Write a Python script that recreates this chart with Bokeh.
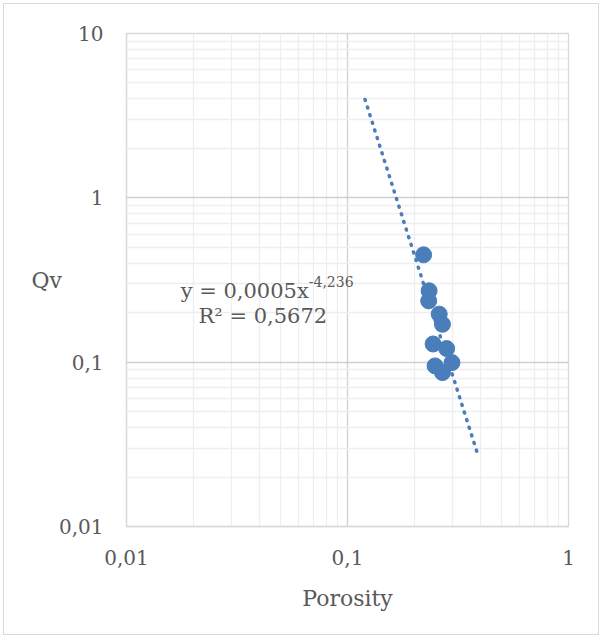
from bokeh.plotting import figure
from bokeh.models import FixedTicker, CustomJSTickFormatter, Label, ColumnDataSource
from bokeh.embed import file_html
from bokeh.resources import INLINE

# data
porosity = [0.221, 0.234, 0.233, 0.260, 0.269, 0.244, 0.281, 0.297, 0.249, 0.269]
qv = [0.450, 0.272, 0.236, 0.196, 0.170, 0.129, 0.121, 0.0994, 0.0949, 0.0864]

# power trendline end points (y = 0.0005 x^-4.236)
trend_x = [0.12, 0.389]
trend_y = [3.97, 0.0273]

x_ticks = [0.01, 0.1, 1]
y_ticks = [0.01, 0.1, 1, 10]
x_minor = [m * d for d in [0.01, 0.1] for m in range(2, 10)]
y_minor = [m * d for d in [0.01, 0.1, 1] for m in range(2, 10)]

eq_main = "y = 0,0005x"
eq_exp = "-4,236"
r2_text = "R² = 0,5672"

FONT = "DejaVu Serif"
TXT = "#595959"
BLUE = "#4a7ebb"

p = figure(width=596, height=632, x_axis_type="log", y_axis_type="log",
           x_range=(0.01, 1), y_range=(0.01, 10),
           output_backend="svg", toolbar_location=None,
           min_border_left=122, min_border_right=32, min_border_top=29, min_border_bottom=110)
p.margin = (3, 0, 0, 3)
p.styles = {"border": "1px solid #d9d9d9"}
p.background_fill_color = "white"
p.border_fill_color = "white"
p.outline_line_color = "#d9d9d9"
p.outline_line_width = 1.3

for ax, ticks, minor in [(p.xaxis, x_ticks, x_minor), (p.yaxis, y_ticks, y_minor)]:
    ax.ticker = FixedTicker(ticks=ticks, minor_ticks=minor)
    ax.formatter = CustomJSTickFormatter(code="return tick.toString().replace('.', ',');")
    ax.major_tick_line_color = None
    ax.minor_tick_line_color = None
    ax.major_tick_out = 0
    ax.minor_tick_out = 0
    ax.axis_line_color = "#d9d9d9"
    ax.axis_line_width = 1.3
    ax.major_label_text_font = FONT
    ax.major_label_text_font_size = "20px"
    ax.major_label_text_color = TXT
    ax.axis_label_text_font = FONT
    ax.axis_label_text_font_size = "22px"
    ax.axis_label_text_font_style = "normal"
    ax.axis_label_text_color = TXT

p.xaxis.major_label_standoff = 23
p.yaxis.major_label_standoff = 23
p.xaxis.axis_label = "Porosity"
p.xaxis.axis_label_standoff = 18
p.yaxis.axis_label = "Qv"
p.yaxis.axis_label_orientation = "horizontal"
p.yaxis.axis_label_standoff = -6

for g in [p.xgrid, p.ygrid]:
    g.grid_line_color = "#d0d0d0"
    g.grid_line_width = 1.3
    g.minor_grid_line_color = "#eeeeee"
    g.minor_grid_line_width = 1.3

p.line(trend_x, trend_y, line_color=BLUE, line_width=3.5, line_dash="1 7", line_cap="round")
src = ColumnDataSource(dict(x=porosity, y=qv))
p.scatter("x", "y", source=src, size=16, fill_color=BLUE, line_color=BLUE)

p.add_layout(Label(x=0.0668, y=0.2716, text=eq_main, text_align="right", text_baseline="middle",
                   text_font=FONT, text_font_size="21px", text_color=TXT))
p.add_layout(Label(x=0.0668, y=0.308, text=eq_exp, text_align="left", text_baseline="middle",
                   text_font=FONT, text_font_size="14px", text_color=TXT))
p.add_layout(Label(x=0.0414, y=0.191, text=r2_text, text_align="center", text_baseline="middle",
                   text_font=FONT, text_font_size="21px", text_color=TXT))

open("out.html", "w").write(file_html(p, INLINE))
